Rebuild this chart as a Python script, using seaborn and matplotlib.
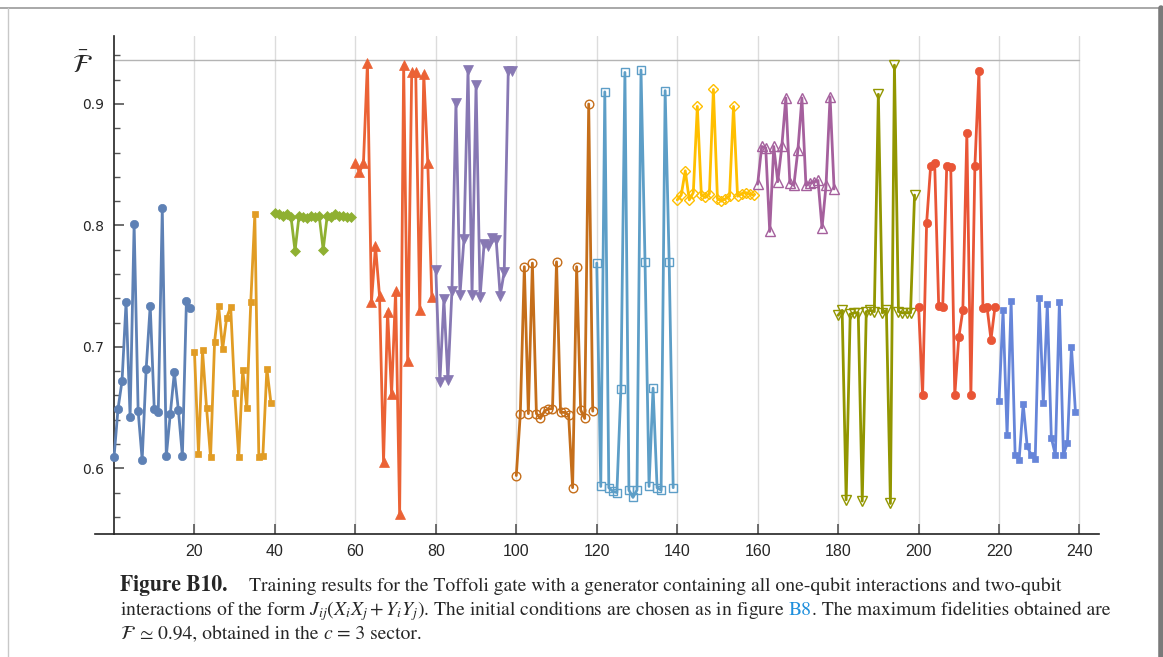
import numpy as np
import pandas as pd
import matplotlib
matplotlib.use('Agg')
import matplotlib.pyplot as plt
from matplotlib.lines import Line2D
import seaborn as sns

# fidelity of each training run, 12 sectors of 20 runs
series_01 = [0.609, 0.649, 0.672, 0.737, 0.642, 0.801, 0.647, 0.607, 0.682, 0.734,
             0.649, 0.646, 0.814, 0.610, 0.645, 0.679, 0.648, 0.610, 0.738, 0.732]
series_02 = [0.696, 0.612, 0.697, 0.650, 0.609, 0.704, 0.734, 0.698, 0.724, 0.733,
             0.662, 0.609, 0.681, 0.650, 0.737, 0.809, 0.609, 0.610, 0.682, 0.654]
series_03 = [0.810, 0.809, 0.808, 0.809, 0.807, 0.779, 0.808, 0.807, 0.806, 0.808,
             0.807, 0.808, 0.780, 0.808, 0.807, 0.809, 0.808, 0.808, 0.807, 0.807]
series_04 = [0.851, 0.844, 0.851, 0.934, 0.737, 0.783, 0.742, 0.605, 0.729, 0.661,
             0.746, 0.562, 0.932, 0.688, 0.926, 0.926, 0.730, 0.925, 0.851, 0.741]
series_05 = [0.763, 0.671, 0.739, 0.673, 0.746, 0.901, 0.743, 0.789, 0.928, 0.743,
             0.916, 0.741, 0.785, 0.783, 0.790, 0.788, 0.742, 0.762, 0.927, 0.927]
series_06 = [0.594, 0.645, 0.766, 0.645, 0.769, 0.645, 0.641, 0.647, 0.649, 0.649,
             0.770, 0.646, 0.646, 0.644, 0.584, 0.766, 0.648, 0.641, 0.900, 0.647]
series_07 = [0.769, 0.585, 0.910, 0.584, 0.581, 0.580, 0.665, 0.926, 0.582, 0.576,
             0.582, 0.928, 0.770, 0.585, 0.666, 0.584, 0.582, 0.911, 0.770, 0.584]
series_08 = [0.821, 0.825, 0.845, 0.821, 0.827, 0.898, 0.825, 0.823, 0.826, 0.912,
             0.822, 0.820, 0.822, 0.824, 0.898, 0.824, 0.826, 0.827, 0.826, 0.825]
series_09 = [0.834, 0.865, 0.864, 0.795, 0.865, 0.836, 0.865, 0.905, 0.835, 0.833,
             0.862, 0.905, 0.833, 0.835, 0.836, 0.837, 0.798, 0.833, 0.906, 0.830]
series_10 = [0.726, 0.730, 0.574, 0.727, 0.728, 0.728, 0.573, 0.729, 0.730, 0.729,
             0.908, 0.728, 0.730, 0.571, 0.932, 0.729, 0.728, 0.728, 0.728, 0.825]
series_11 = [0.733, 0.660, 0.802, 0.849, 0.851, 0.734, 0.733, 0.849, 0.848, 0.660,
             0.708, 0.730, 0.876, 0.660, 0.849, 0.927, 0.732, 0.733, 0.706, 0.733]
series_12 = [0.655, 0.730, 0.627, 0.738, 0.611, 0.607, 0.653, 0.618, 0.611, 0.608,
             0.740, 0.654, 0.735, 0.625, 0.611, 0.737, 0.611, 0.621, 0.700, 0.646]

all_series = [series_01, series_02, series_03, series_04, series_05, series_06,
              series_07, series_08, series_09, series_10, series_11, series_12]
max_fidelity = 0.936

x_ticks = [20, 40, 60, 80, 100, 120, 140, 160, 180, 200, 220, 240]
y_ticks = [0.6, 0.7, 0.8, 0.9]

# Mathematica style palette and markers
colors = ['#5E81B5', '#E19C24', '#8FB032', '#EB6235', '#8778B3', '#C56E1A',
          '#5D9EC7', '#FFBF00', '#A5609D', '#929600', '#E95536', '#6685D9']
markers = ['o', 's', 'D', '^', 'v', 'o', 's', 'D', '^', 'v', 'o', 's']
filled = [True, True, True, True, True, False, False, False, False, False, True, True]
msizes = [6.0, 4.8, 5.0, 6.5, 6.5, 6.2, 5.2, 5.0, 6.5, 6.5, 6.0, 4.8]

W, H = 1163, 657


def main():
    rows = []
    for k, vals in enumerate(all_series):
        for i, v in enumerate(vals):
            rows.append({'step': 20 * k + i, 'fidelity': v, 'series': k})
    df = pd.DataFrame(rows)

    sns.set_style('ticks')
    plt.rcParams['mathtext.fontset'] = 'stix'

    fig = plt.figure(figsize=(W / 100, H / 100), dpi=100)
    ax = fig.add_axes([94.7 / W, (H - 534.3) / H, (1098.8 - 94.7) / W, (534.3 - 36) / H])

    for k in range(len(all_series)):
        sub = df[df['series'] == k]
        face = colors[k] if filled[k] else 'none'
        sns.lineplot(data=sub, x='step', y='fidelity', ax=ax, color=colors[k],
                     estimator=None, errorbar=None, sort=False, linewidth=2.0,
                     marker=markers[k], markersize=msizes[k], markerfacecolor=face,
                     markeredgecolor=colors[k], markeredgewidth=1.0 if not filled[k] else 0.5,
                     clip_on=False, zorder=3)

    ax.set_xlim(-4.8, 244.8)
    ax.set_ylim(0.5456, 0.956)
    ax.axhline(max_fidelity, xmin=4.8 / 249.6, xmax=244.8 / 249.6, color='#b4b4b4', lw=1.0, zorder=1)

    ax.set_xticks(x_ticks)
    ax.set_yticks(y_ticks)
    ax.set_yticks(np.arange(0.56, 0.95, 0.02), minor=True)
    ax.set_xticklabels([str(t) for t in x_ticks], family='Liberation Sans', fontsize=11.5)
    ax.set_yticklabels([f'{t:.1f}' for t in y_ticks], family='Liberation Sans', fontsize=11.5)
    ax.tick_params(axis='both', which='major', direction='in', length=7, width=1.2, color='#555555', pad=7)
    ax.tick_params(axis='y', which='minor', direction='in', length=4, width=1.0, color='#555555')
    ax.grid(axis='x', color='#dcdcdc', lw=1.0)
    ax.set_axisbelow(True)

    ax.spines['top'].set_visible(False)
    ax.spines['right'].set_visible(False)
    ax.spines['left'].set_position(('data', 0))
    for s in ['left', 'bottom']:
        ax.spines[s].set_color('#222222')
        ax.spines[s].set_linewidth(1.2)
    ax.set_xlabel('')
    ax.set_ylabel('')
    fig.text(72 / W, 1 - 73 / H, r'$\bar{\mathcal{F}}$', fontsize=19, ha='left', va='baseline')

    # page frame
    fig.add_artist(Line2D([0, 1], [1 - 8 / H, 1 - 8 / H], transform=fig.transFigure, color='#9a9a9a', lw=1.2))
    fig.add_artist(Line2D([8 / W, 8 / W], [0, 1 - 8 / H], transform=fig.transFigure, color='#c8c8c8', lw=1.0))
    fig.add_artist(Line2D([1160.5 / W, 1160.5 / W], [0, 1 - 8 / H], transform=fig.transFigure, color='#7a7a7a', lw=4.0))

    # caption
    renderer = fig.canvas.get_renderer()

    def put(x, y, s, size=14.1, **kw):
        t = fig.text(x / W, 1 - y / H, s, ha='left', va='baseline', family='STIXGeneral',
                     fontsize=size, **kw)
        return x + t.get_window_extent(renderer).width

    x = put(120, 591, 'Figure B10.', size=15.5, weight='bold')
    put(x + 22, 591, 'Training results for the Toffoli gate with a generator containing all one-qubit '
                     'interactions and two-qubit')
    x = put(120, 615, r'interactions of the form $J_{ij}(X_iX_j+Y_iY_j)$. The initial conditions '
                      'are chosen as in figure')
    x = put(x + 4, 615, 'B8', color='#1f8fdc')
    put(x, 615, '. The maximum fidelities obtained are')
    x = put(120, 639, r'$\mathcal{F}$')
    x = put(x + 1, 639, r'$\simeq$')
    x = put(x + 4, 639, '0.94, obtained in the')
    x = put(x + 4, 639, r'$c$')
    put(x + 4, 639, '= 3 sector.')

    fig.savefig('out.png', dpi=100)


if __name__ == "__main__":
    main()
